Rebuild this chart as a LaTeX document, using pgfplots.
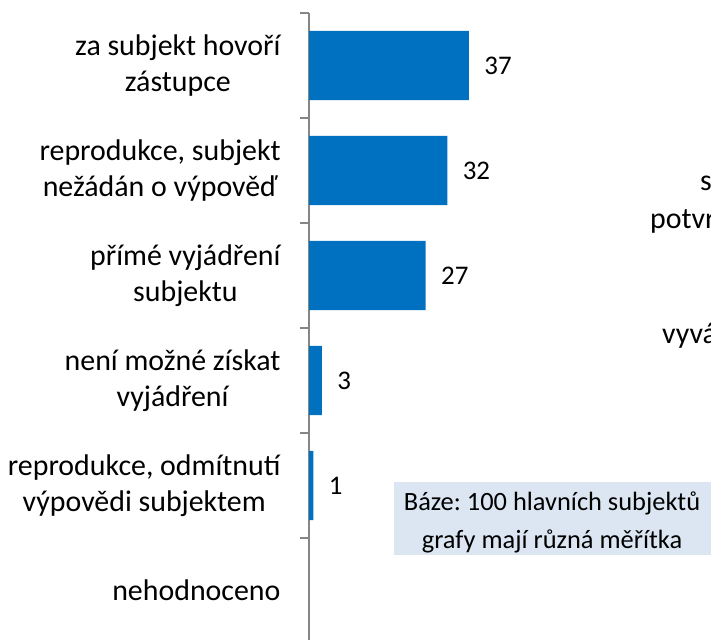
\documentclass[border=0pt]{standalone}
\usepackage{fontspec}
\setmainfont{Carlito}
\usepackage{pgfplots}
\pgfplotsset{compat=1.18}
\definecolor{barblue}{RGB}{0,112,192}
\definecolor{axisgray}{RGB}{134,134,134}
\definecolor{boxblue}{RGB}{220,230,242}
\newcommand{\lab}{\fontsize{30}{36.5}\selectfont}
\newcommand{\num}{\fontsize{27}{33}\selectfont}
\newcommand{\boxfont}{\fontsize{26.5}{32}\selectfont}
\frenchspacing
\begin{document}
\begin{tikzpicture}
\path[use as bounding box] (0bp,0bp) rectangle (711bp,-640bp);
\clip (0bp,0bp) rectangle (711bp,-640bp);
\begin{axis}[
  at={(309bp,-13bp)}, anchor=north west,
  scale only axis, width=402bp, height=630bp,
  xbar, bar width=0.66, bar shift=0pt,
  xmin=0, xmax=93,
  ymin=-0.5, ymax=5.5, y dir=reverse,
  axis x line=none, axis y line*=left,
  axis line style={axisgray, line width=1.3bp},
  ytick={0,...,5},
  yticklabels={{za subjekt hovoří\\zástupce},
    {reprodukce, subjekt\\nežádán o výpověď},
    {přímé vyjádření\\subjektu},
    {není možné získat\\vyjádření},
    {reprodukce, odmítnutí\\výpovědi subjektem},
    {nehodnoceno}},
  major tick length=0pt,
  extra y ticks={-0.5,0.5,...,5.5},
  extra y tick labels={},
  extra y tick style={major tick length=9bp, tick align=outside,
    tick style={axisgray, line width=1.3bp}},
  yticklabel style={align=center, font=\lab, xshift=-25bp},
  /pgf/number format/assume math mode=true,
  nodes near coords,
  nodes near coords style={anchor=west, xshift=12bp, font=\num, text=black},
  point meta=x,
  clip=false,
]
\addplot[fill=barblue, draw=none] coordinates {(37,0) (32,1) (27,2) (3,3) (1,4)};
\end{axis}
\fill[boxblue] (394bp,-482bp) rectangle (711bp,-555bp);
\node[anchor=base, font=\boxfont, inner sep=0pt] at (552bp,-510bp) {Báze: 100 hlavních subjektů};
\node[anchor=base, font=\boxfont, inner sep=0pt] at (552bp,-548bp) {grafy mají různá měřítka};
\node[anchor=base west, font=\lab, inner sep=0pt] at (700bp,-190bp) {s};
\node[anchor=base west, font=\lab, inner sep=0pt] at (650bp,-228bp) {potvr};
\node[anchor=base west, font=\lab, inner sep=0pt] at (662bp,-343bp) {vyvá};
\end{tikzpicture}
\end{document}
